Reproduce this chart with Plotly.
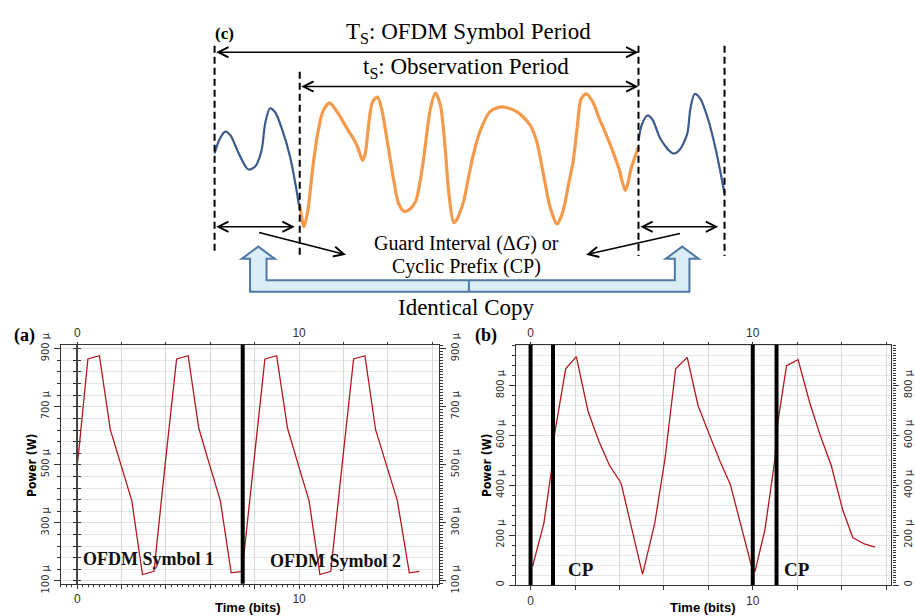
import plotly.graph_objects as go

W, H = 915, 616

# ---------------- data ----------------
# (a) two OFDM symbols, no guard interval (time in bits, power in microwatts)
t_a = [0.0, 0.08, 0.48, 1.0, 1.49, 1.97, 2.46, 2.94, 3.46, 3.96, 4.48, 5.0, 5.48,
       5.97, 6.45, 6.94, 7.42, 7.50, 7.55, 8.0, 8.46, 8.99, 9.48, 9.97, 10.45, 10.94,
       11.43, 11.94, 12.46, 12.97, 13.45, 13.94, 14.43, 14.97, 15.43]
p_a = [500, 555, 865, 876, 621, 499, 377, 122, 133, 500, 865, 876, 626,
       499, 377, 128, 133, 180, 215, 540, 865, 876, 626, 499, 377, 122,
       133, 500, 865, 876, 621, 499, 377, 128, 133]
symbol_boundary_a = [7.46]

# (b) OFDM symbols with cyclic prefix
t_b = [0.09, 0.6, 0.94, 1.05, 1.58, 2.06, 2.58, 3.07, 3.55, 4.07, 5.04, 5.59, 6.05,
       6.53, 7.05, 7.54, 8.02, 8.54, 8.99, 9.93, 10.1, 10.55, 11.0, 11.12, 11.52,
       12.04, 12.56, 13.05, 13.53, 14.05, 14.5, 15.02, 15.5]
p_b = [75, 249, 460, 590, 868, 917, 700, 578, 481, 410, 43, 249, 507,
       868, 914, 720, 610, 494, 404, 81, 55, 223, 507, 649, 881,
       905, 733, 597, 481, 301, 191, 165, 152]
cp_edges_b = [0.0, 1.01, 10.0, 11.07]

# tick values / labels
bit_ticks = list(range(0, 17, 2))
bit_labels = ["0" if v == 0 else ("10" if v == 10 else "") for v in bit_ticks]
pow_ticks_a = [100, 300, 500, 700, 900]
pow_labels_a = [f"{v} µ" for v in pow_ticks_a]
pow_ticks_b = [0, 200, 400, 600, 800]
pow_labels_b = ["0" if v == 0 else f"{v} µ" for v in pow_ticks_b]

# (c) schematic waveforms in diagram units
cp_wave_x = [216, 221, 226.7, 232, 240, 250, 257, 263.3, 267, 271.7, 277, 284, 292, 298, 301.7]
cp_wave_y = [146.7, 132, 124, 128, 146, 163.3, 160, 143.3, 115, 100, 104, 122, 150, 182, 205]
copy_wave_x = [642.7, 646, 651.7, 657, 665, 677.3, 684, 691.7, 695, 699.3, 705, 713, 721, 729.3]
copy_wave_y = [133.3, 117, 107.3, 112, 132, 146.7, 143, 126.7, 100, 85, 90, 112, 145, 188.3]
body_wave_x = [301.7, 306, 310, 315, 320, 325, 331.7, 337, 343.3, 350, 355, 360, 365, 368,
               370, 375, 380, 384, 390, 396.7, 401, 406.7, 412, 418.3, 423, 426.7, 433.3,
               438.3, 443.3, 448, 451.7, 456.7, 460, 463.3, 467, 470, 476, 483.3, 493.3,
               505, 520, 533.3, 540, 546.7, 552, 555, 560.7, 565, 568.3, 572, 576.7, 581,
               585, 590, 596.7, 603, 610, 617, 623.3, 629.3, 632, 635, 642.7]
body_wave_y = [200, 222.7, 205, 160, 125, 103.3, 94.3, 100, 110, 122, 130, 140, 154, 145,
               126.7, 93.3, 88.3, 100, 135, 176.7, 198, 206.7, 205, 196.7, 175, 150, 100,
               84, 96.7, 140, 186.7, 218.3, 215, 206.7, 195, 180, 150, 123.3, 103.3,
               98.3, 103.3, 116.7, 133.3, 166.7, 195, 206.7, 220, 212, 200, 180, 156.7, 120,
               90, 85, 93.3, 110, 126.7, 145, 163.3, 185, 178, 163.3, 140]


# ---------------- helpers ----------------
def fx(px):
    return px / W


def fy(py):
    return 1 - py / H


SERIF = "Liberation Serif, Times New Roman, serif"
NARROW = "Liberation Sans Narrow, Arial Narrow, DejaVu Sans Condensed, sans-serif"
SANS = "Liberation Sans, Arial, sans-serif"
tick_font = dict(family=NARROW, size=11, color="#333")
bit_font = dict(family=SANS, size=12, color="#333")
RED = "#b3171f"

A_X = [fx(61), fx(441.7)]
A_Y = [fy(593), fy(345)]
B_X = [fx(519.3), fx(897.3)]
B_Y = [fy(594.3), fy(345)]
A_XR = [-0.75, 16.3]
B_XR = [-0.66, 16.24]
A_YR = [90, 914]
B_YR = [0, 965]


def bit_axis(domain, rng, side, anchor, overlay=None, grid=False, minor=False):
    ax = dict(domain=domain, range=rng, side=side, anchor=anchor,
              tickmode="array", tickvals=bit_ticks, ticktext=bit_labels,
              ticks="outside", ticklen=4 if side == "bottom" else 2, tickcolor="#333",
              showline=True, linecolor="#333", linewidth=1.2, tickfont=bit_font,
              zeroline=False, showgrid=grid, gridcolor="#d9d9d9", gridwidth=1,
              fixedrange=True)
    if overlay:
        ax["overlaying"] = overlay
    if minor:
        ax["minor"] = dict(dtick=0.25, ticks="outside", ticklen=2, tickcolor="#333",
                           showgrid=False)
    return ax


def pow_axis(domain, rng, side, anchor, vals, labels, tick0, overlay=None, grid=False,
             comb=False):
    ax = dict(domain=domain, range=rng, side=side, anchor=anchor,
              tickmode="array", tickvals=vals, ticktext=labels, tickangle=-90,
              ticks="outside", ticklen=6, tickcolor="#333", showline=True,
              linecolor="#333", linewidth=1.2, tickfont=tick_font, zeroline=False,
              showgrid=grid, gridcolor="#e0e0e0", fixedrange=True)
    if grid:
        ax["minor"] = dict(dtick=40, tick0=tick0, showgrid=True, gridcolor="#e6e6e6",
                           ticks="outside", ticklen=3, tickcolor="#333")
    if comb:
        ax["minor"] = dict(dtick=10, tick0=tick0, ticks="outside", ticklen=3,
                           tickcolor="#333", showgrid=False)
    if overlay:
        ax["overlaying"] = overlay
    return ax


fig = go.Figure()

# waveform traces
fig.add_trace(go.Scatter(x=t_a, y=p_a, mode="lines", line=dict(color=RED, width=1.3),
                         xaxis="x", yaxis="y", showlegend=False, hoverinfo="skip"))
fig.add_trace(go.Scatter(x=t_b, y=p_b, mode="lines", line=dict(color=RED, width=1.3),
                         xaxis="x3", yaxis="y5", showlegend=False, hoverinfo="skip"))

# placeholder traces so every overlay axis is rendered
for xa, ya in [("x2", "y"), ("x", "y2"), ("x", "y3"), ("x", "y4"), ("x4", "y5"), ("x3", "y6")]:
    fig.add_trace(go.Scatter(x=[None], y=[None], xaxis=xa, yaxis=ya, showlegend=False,
                             hoverinfo="skip"))

# diagram curves
fig.add_trace(go.Scatter(x=cp_wave_x, y=cp_wave_y, mode="lines",
                         line=dict(color="#3b5b8a", width=2.2, shape="spline", smoothing=0.8),
                         xaxis="x5", yaxis="y7", showlegend=False, hoverinfo="skip"))
fig.add_trace(go.Scatter(x=body_wave_x, y=body_wave_y, mode="lines",
                         line=dict(color="#f39a4c", width=3.2, shape="spline", smoothing=0.8),
                         xaxis="x5", yaxis="y7", showlegend=False, hoverinfo="skip"))
fig.add_trace(go.Scatter(x=copy_wave_x, y=copy_wave_y, mode="lines",
                         line=dict(color="#3b5b8a", width=2.2, shape="spline", smoothing=0.8),
                         xaxis="x5", yaxis="y7", showlegend=False, hoverinfo="skip"))

zero_pos = fx(77.7)
fig.update_layout(
    width=W, height=H, margin=dict(l=0, r=0, t=0, b=0),
    paper_bgcolor="white", plot_bgcolor="white", showlegend=False,
    xaxis=bit_axis(A_X, A_XR, "bottom", "y", grid=True, minor=True),
    xaxis2=bit_axis(A_X, A_XR, "top", "y", overlay="x"),
    yaxis=pow_axis(A_Y, A_YR, "left", "x", pow_ticks_a, pow_labels_a, 100, grid=True),
    yaxis2=pow_axis(A_Y, A_YR, "right", "x", pow_ticks_a, pow_labels_a, 100,
                    overlay="y", comb=True),
    yaxis3=dict(overlaying="y", anchor="free", position=zero_pos, side="left",
                range=A_YR, showline=True, linecolor="#444", linewidth=1.6,
                tickmode="linear", tick0=100, dtick=40, ticks="outside", ticklen=3,
                tickcolor="#333", showticklabels=False, showgrid=False, zeroline=False),
    yaxis4=dict(overlaying="y", anchor="free", position=zero_pos, side="right",
                range=A_YR, showline=False, tickmode="linear", tick0=100, dtick=40,
                ticks="outside", ticklen=3, tickcolor="#333", showticklabels=False,
                showgrid=False, zeroline=False),
    xaxis3=bit_axis(B_X, B_XR, "bottom", "y5", grid=True),
    xaxis4=bit_axis(B_X, B_XR, "top", "y5", overlay="x3"),
    yaxis5=pow_axis(B_Y, B_YR, "left", "x3", pow_ticks_b, pow_labels_b, 0, grid=True),
    yaxis6=pow_axis(B_Y, B_YR, "right", "x3", pow_ticks_b, pow_labels_b, 0,
                    overlay="y5", comb=True),
    xaxis5=dict(domain=[0, 1], range=[0, W], anchor="y7", visible=False, fixedrange=True),
    yaxis7=dict(domain=[fy(320), 1], range=[320, 0], anchor="x5", visible=False,
                fixedrange=True),
)

shapes = []
# symbol boundaries / cyclic-prefix edges
for t in symbol_boundary_a:
    shapes.append(dict(type="line", xref="x", yref="y domain", x0=t, x1=t, y0=0, y1=1,
                       line=dict(color="black", width=4)))
for t in cp_edges_b:
    shapes.append(dict(type="line", xref="x3", yref="y5 domain", x0=t, x1=t, y0=0, y1=1,
                       line=dict(color="black", width=4)))

# diagram: dashed period markers
for x0, y0, y1 in [(216, 35, 250), (301.7, 62, 252), (642.7, 35, 253), (729.3, 35, 253)]:
    shapes.append(dict(type="line", xref="x5", yref="y7", x0=x0, x1=x0, y0=y0, y1=y1,
                       line=dict(color="black", width=2, dash="7px,4px")))

# diagram: "identical copy" block arrow
block = ("M251.7,290 L251.7,256 L243.3,256 L260,243.3 L276.7,256 L268.3,256 "
         "L268.3,278.3 L679.3,278.3 L679.3,256 L670,256 L686.7,243.3 L703.3,256 "
         "L694,256 L694,290 Z")
shapes.append(dict(type="path", xref="x5", yref="y7", path=block,
                   fillcolor="#dbeef6", line=dict(color="#4f79a6", width=2)))
shapes.append(dict(type="line", xref="x5", yref="y7", x0=472, x1=472, y0=278.3, y1=290,
                   line=dict(color="#4f79a6", width=2)))
fig.update_layout(shapes=shapes)

ann = []


def arrow(x_head, y_head, x_tail, y_tail, both=False):
    ann.append(dict(x=x_head, y=y_head, ax=x_tail, ay=y_tail, xref="x5", yref="y7",
                    axref="x5", ayref="y7", text="", showarrow=True, arrowhead=5,
                    arrowsize=1.25, arrowwidth=1.6, arrowcolor="black", standoff=0,
                    startstandoff=0, arrowside="end+start" if both else "end",
                    startarrowhead=5, startarrowsize=1.25))


arrow(642.7, 41.7, 216, 41.7, both=True)
arrow(642.7, 77.3, 301.7, 77.3, both=True)
arrow(296.7, 222.7, 216, 222.7, both=True)
arrow(723, 222.7, 643, 222.7, both=True)
arrow(348.3, 251.7, 259.3, 228.3)
arrow(590, 251.7, 686, 229.3)


def dtext(x, y, s, size, bold=False):
    ann.append(dict(x=x, y=y, xref="x5", yref="y7", text=f"<b>{s}</b>" if bold else s,
                    showarrow=False, font=dict(family=SERIF, size=size, color="black"),
                    xanchor="center", yanchor="middle"))


dtext(226, 22, "(c)", 17, bold=True)
dtext(472, 22, "T<sub>S</sub>: OFDM Symbol Period", 23)
dtext(469, 58, "t<sub>S</sub>: Observation Period", 23)
dtext(470, 240, "Guard Interval (Δ<i>G</i>) or", 20)
dtext(470, 264, "Cyclic Prefix (CP)", 20)
dtext(470, 306, "Identical Copy", 23)


def ptext(px, py, s, size, family=SERIF, angle=0, yanchor="middle", color="black"):
    ann.append(dict(x=fx(px), y=fy(py), xref="paper", yref="paper", text=s,
                    showarrow=False, textangle=angle, xanchor="center", yanchor=yanchor,
                    font=dict(family=family, size=size, color=color)))


ptext(25, 335, "<b>(a)</b>", 18)
ptext(489, 335, "<b>(b)</b>", 18)
ptext(32, 470, "<b>Power (W)</b>", 12, family=NARROW, angle=-90)
ptext(490, 470, "<b>Power (W)</b>", 12, family=NARROW, angle=-90)
ptext(250, 608, "<b>Time (bits)</b>", 13, family=SANS, yanchor="top")
ptext(708, 608, "<b>Time (bits)</b>", 13, family=SANS, yanchor="top")

# in-plot labels
for x, y, s, size, xa, ya in [(3.2, 176, "OFDM Symbol 1", 18, "x", "y"),
                              (11.66, 170, "OFDM Symbol 2", 18, "x", "y"),
                              (2.26, 63, "CP", 19, "x3", "y5"),
                              (12.0, 63, "CP", 19, "x3", "y5")]:
    ann.append(dict(x=x, y=y, xref=xa, yref=ya, text=f"<b>{s}</b>", showarrow=False,
                    font=dict(family=SERIF, size=size, color="#111"),
                    xanchor="center", yanchor="middle"))

fig.update_layout(annotations=ann)
fig.write_html("out.html")
